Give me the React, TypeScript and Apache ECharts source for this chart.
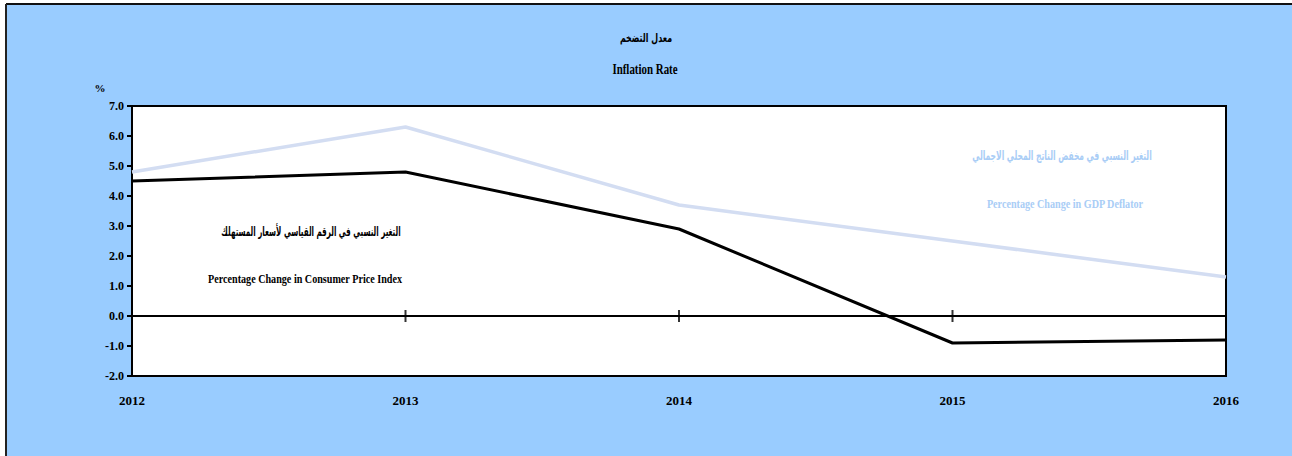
import React, { useEffect, useRef } from "react";
import * as echarts from "echarts";

const years = ["2012", "2013", "2014", "2015", "2016"];
const cpiValues = [4.5, 4.8, 2.9, -0.9, -0.8];
const gdpDeflatorValues = [4.8, 6.3, 3.7, 2.5, 1.3];
const tickYears = ["2013", "2014", "2015"];

const titleAr = "معدل التضخم";
const titleEn = "Inflation Rate";
const cpiLabelAr = "التغير النسبي في الرقم القياسي لأسعار المستهلك";
const cpiLabelEn = "Percentage Change in Consumer Price Index";
const gdpLabelAr = "التغير النسبي في مخفض الناتج المحلي الاجمالي";
const gdpLabelEn = "Percentage Change in GDP Deflator";

const FONT = "'Liberation Serif', 'DejaVu Serif', 'DejaVu Sans', serif";
const AR_FONT = "'DejaVu Sans', 'Noto Sans', sans-serif";

export default function App() {
  const ref = useRef<HTMLDivElement>(null);
  useEffect(() => {
    if (!ref.current) return;
    const chart = echarts.init(ref.current, null, { renderer: "svg" });
    const txt = (
      text: string,
      x: number,
      y: number,
      opts: { color?: string; size?: number; font?: string; sx?: number } = {}
    ) => ({
      type: "text",
      x,
      y,
      scaleX: opts.sx ?? 0.78,
      z: 100,
      style: {
        text,
        fill: opts.color ?? "#000",
        font: `bold ${opts.size ?? 13}px ${opts.font ?? FONT}`,
        textAlign: "center",
        textVerticalAlign: "middle",
      },
    });
    chart.setOption({
      animation: false,
      backgroundColor: "#fff",
      grid: {
        left: 132,
        top: 106,
        width: 1094,
        height: 270,
        show: true,
        backgroundColor: "#fff",
        borderColor: "#000",
        borderWidth: 2,
        z: 2,
      },
      xAxis: {
        type: "category",
        data: years,
        boundaryGap: false,
        position: "bottom",
        axisLine: { show: false, onZero: false },
        axisTick: { show: false },
        splitLine: { show: false },
        axisLabel: {
          margin: 18,
          color: "#000",
          fontFamily: FONT,
          fontWeight: "bold",
          fontSize: 13,
        },
      },
      yAxis: {
        type: "value",
        min: -2,
        max: 7,
        interval: 1,
        axisLine: { show: true, lineStyle: { color: "#000", width: 2 } },
        axisTick: { show: true, length: 5, lineStyle: { color: "#000", width: 2 } },
        splitLine: { show: false },
        axisLabel: {
          margin: 8,
          color: "#000",
          fontFamily: FONT,
          fontWeight: "bold",
          fontSize: 12,
          formatter: (v: number) => v.toFixed(1),
        },
      },
      series: [
        {
          name: "GDP Deflator",
          type: "line",
          data: gdpDeflatorValues,
          symbol: "none",
          lineStyle: { color: "#D3DDF2", width: 3.5 },
          z: 3,
        },
        {
          name: "CPI",
          type: "line",
          data: cpiValues,
          symbol: "none",
          lineStyle: { color: "#000", width: 3 },
          z: 5,
          markLine: {
            silent: true,
            symbol: "none",
            label: { show: false },
            lineStyle: { color: "#000", width: 2, type: "solid" },
            data: [{ yAxis: 0 }],
            z: 4,
          },
        },
        {
          name: "zero ticks",
          type: "scatter",
          data: tickYears.map((y) => [y, 0]),
          symbol: "rect",
          symbolSize: [2, 12],
          itemStyle: { color: "#000" },
          z: 4,
          silent: true,
        },
      ],
      graphic: [
        {
          type: "rect",
          z: -10,
          silent: true,
          shape: { x: 6, y: 4, width: 1400, height: 600 },
          style: { fill: "#99CCFF" },
        },
        {
          type: "line",
          z: -9,
          silent: true,
          shape: { x1: 6, y1: 4, x2: 1400, y2: 4 },
          style: { stroke: "#111", lineWidth: 2 },
        },
        {
          type: "line",
          z: -9,
          silent: true,
          shape: { x1: 6, y1: 4, x2: 6, y2: 600 },
          style: { stroke: "#222", lineWidth: 2 },
        },
        txt(titleAr, 646, 38, { font: AR_FONT, size: 12, sx: 0.66 }),
        txt(titleEn, 645, 70, { size: 14 }),
        { type: "text", x: 100, y: 88, z: 100, style: { text: "%", fill: "#000", font: `bold 11px ${FONT}`, textAlign: "center", textVerticalAlign: "middle" } },
        txt(cpiLabelAr, 311, 231, { font: AR_FONT, size: 13, sx: 0.55 }),
        txt(cpiLabelEn, 305, 279, { size: 13, sx: 0.78 }),
        txt(gdpLabelAr, 1062, 156, { font: AR_FONT, size: 13, sx: 0.58, color: "#A9CDF6" }),
        txt(gdpLabelEn, 1065, 204, { size: 13, sx: 0.78, color: "#A9CDF6" }),
      ],
    });
    return () => chart.dispose();
  }, []);
  return (
    <div
      ref={ref}
      style={{ position: "absolute", left: 0, top: 0, width: 1292, height: 456 }}
    />
  );
}
